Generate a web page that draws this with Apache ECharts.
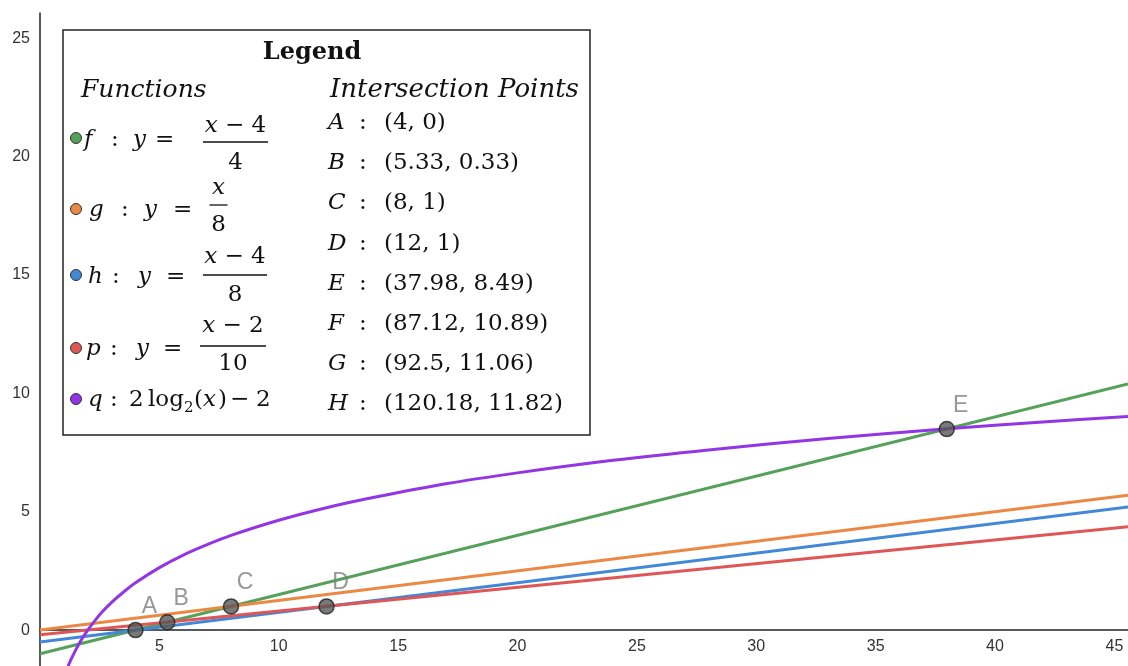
<!DOCTYPE html>
<html><head><meta charset="utf-8">
<script src="https://cdn.jsdelivr.net/npm/echarts@6/dist/echarts.min.js"></script>
<style>html,body{margin:0;padding:0;background:#fff}#c{width:1128px;height:666px}</style>
</head><body><div id="c"></div>
<script>
// ---- data ----
var lineNames = ['f', 'g', 'h', 'p'];
var lineColors = ['#55a15a', '#eb8844', '#4288d6', '#df5656'];
var lineStartX = [0, 0, 0, 0];
var lineStartY = [-1.0, 0.0, -0.5, -0.2];
var lineEndX = [45.57, 45.57, 45.57, 45.57];
var lineEndY = [10.39, 5.70, 5.20, 4.36];

var qColor = '#9236e3';
var qX = [1.15, 1.2, 1.3, 1.4, 1.6, 1.8, 2, 2.3, 2.6, 3, 3.5, 4, 5, 6, 7, 8, 10, 12, 14, 17, 20, 24, 28, 33, 38, 42, 45.57];
var qY = [-1.6, -1.47, -1.24, -1.03, -0.64, -0.3, 0, 0.4, 0.76, 1.17, 1.61, 2, 2.64, 3.17, 3.61, 4, 4.64, 5.17, 5.61, 6.18, 6.64, 7.17, 7.61, 8.09, 8.5, 8.79, 9.02];

var pointNames = ['A', 'B', 'C', 'D', 'E'];
var pointX = [4, 5.33, 8, 12, 37.98];
var pointY = [0, 0.33, 1, 1, 8.49];

var xTicks = [5, 10, 15, 20, 25, 30, 35, 40, 45];
var yTicks = [0, 5, 10, 15, 20, 25];

var legendTitle = 'Legend';
var functionsTitle = 'Functions';
var pointsTitle = 'Intersection Points';
var intersectionLetters = ['A', 'B', 'C', 'D', 'E', 'F', 'G', 'H'];
var intersectionCoords = ['(4, 0)', '(5.33, 0.33)', '(8, 1)', '(12, 1)', '(37.98, 8.49)', '(87.12, 10.89)', '(92.5, 11.06)', '(120.18, 11.82)'];

// ---- chart ----
var chart = echarts.init(document.getElementById('c'));
var SERIF = '"DejaVu Serif", serif';
var SANS = '"Liberation Sans", Arial, sans-serif';
var FS = 23;

var series = [];
lineNames.forEach(function (n, i) {
  series.push({
    name: n, type: 'line', showSymbol: false, silent: true, z: 2,
    data: [[lineStartX[i], lineStartY[i]], [lineEndX[i], lineEndY[i]]],
    lineStyle: { color: lineColors[i], width: 3 }
  });
});
series.push({
  name: 'q', type: 'line', showSymbol: false, smooth: 0.3, silent: true, z: 3,
  data: qX.map(function (x, i) { return [x, qY[i]]; }),
  lineStyle: { color: qColor, width: 3 }
});
series.push({
  name: 'points', type: 'scatter', z: 5, symbolSize: 15,
  data: pointX.map(function (x, i) { return { name: pointNames[i], value: [x, pointY[i]] }; }),
  itemStyle: { color: '#575757', borderColor: '#222', borderWidth: 1.5 },
  label: { show: true, position: 'top', offset: [14, 1], formatter: '{b}', color: '#7d7d7d',
           fontSize: 23, fontFamily: SANS }
});

// legend box graphics
var g = [];
g.push({ type: 'rect', shape: { x: 63, y: 30, width: 527, height: 405 },
  style: { fill: '#fff', stroke: '#222', lineWidth: 1.5 }, z: 100 });
function T(x, y, text, kind, opts) {
  var font = (kind === 'i' ? 'italic ' : kind === 'b' ? 'bold ' : '') + ((opts && opts.size) || FS) + 'px ' + SERIF;
  g.push({ type: 'text', x: x, y: y, z: 101,
    style: { text: text, fill: '#111', font: font, textVerticalAlign: 'middle',
             textAlign: (opts && opts.align) || 'left' } });
}
var rich = {
  i: { fontFamily: SERIF, fontStyle: 'italic', fontSize: FS, fill: '#111' },
  r: { fontFamily: SERIF, fontSize: FS, fill: '#111' }
};
function R(x, y, text) {
  g.push({ type: 'text', x: x, y: y, z: 101,
    style: { text: text, rich: rich, fill: '#111', font: FS + 'px ' + SERIF, verticalAlign: 'middle', align: 'center' } });
}
T(312, 53, legendTitle, 'b', { size: 24, align: 'center' });
T(81, 90, functionsTitle, 'i', { size: 25 });
T(330, 90, pointsTitle, 'i', { size: 26 });

intersectionLetters.forEach(function (L, i) {
  var y = 123 + i * 40.2;
  T(328, y, L, 'i');
  T(359, y, ':', 'r');
  T(384, y, intersectionCoords[i], 'r');
});

// function rows
var dotY = [138, 209, 275, 348, 399];
var dotColors = lineColors.concat([qColor]);
dotY.forEach(function (y, i) {
  g.push({ type: 'circle', shape: { cx: 76, cy: y, r: 5.5 }, z: 101,
    style: { fill: dotColors[i], stroke: '#333', lineWidth: 1 } });
});
function frac(cx, yb, num, den, w, dn, dd) {
  R(cx, yb - dn, num);
  g.push({ type: 'line', shape: { x1: cx - w / 2, y1: yb, x2: cx + w / 2, y2: yb }, z: 101,
    style: { stroke: '#111', lineWidth: 1.3 } });
  R(cx, yb + dd, den);
}
// f
T(84, 140, 'f', 'i'); T(111, 140, ':', 'r'); T(133, 140, 'y', 'i'); T(155, 140, '=', 'r');
frac(235.5, 142, '{i|x}{r| − 4}', '{r|4}', 65, 16, 21);
// g
T(89, 210, 'g', 'i'); T(121, 210, ':', 'r'); T(144, 210, 'y', 'i'); T(173, 210, '=', 'r');
frac(218.5, 205, '{i|x}', '{r|8}', 18, 17, 20);
// h
T(88, 277, 'h', 'i'); T(112, 277, ':', 'r'); T(138, 277, 'y', 'i'); T(166, 277, '=', 'r');
frac(235, 275, '{i|x}{r| − 4}', '{r|8}', 64, 18, 20);
// p
T(86, 349, 'p', 'i'); T(110, 349, ':', 'r'); T(136, 349, 'y', 'i'); T(163, 349, '=', 'r');
frac(233, 346, '{i|x}{r| − 2}', '{r|10}', 66, 20, 18);
// q
T(88, 400, 'q', 'i'); T(110, 400, ':', 'r'); T(129, 400, '2', 'r'); T(148, 400, 'log', 'r');
T(184, 408, '2', 'r', { size: 15 }); T(194, 400, '(', 'r'); T(203, 400, 'x', 'i'); T(218, 400, ')', 'r');
T(230, 400, '−', 'r'); T(256, 400, '2', 'r');

chart.setOption({
  animation: false,
  backgroundColor: '#fff',
  grid: { left: 40, top: 13, width: 1088, height: 735.5, containLabel: false, outerBoundsMode: 'none' },
  xAxis: {
    type: 'value', min: 0, max: 45.57, interval: 5, position: 'bottom', offset: -118.41,
    axisLine: { show: true, onZero: false, lineStyle: { color: '#222', width: 1.5 } },
    axisTick: { show: false }, splitLine: { show: false },
    axisLabel: { margin: 9, color: '#333', fontSize: 16, fontFamily: SANS,
      formatter: function (v) { return xTicks.indexOf(Math.round(v * 100) / 100) >= 0 ? String(v) : ''; } }
  },
  yAxis: {
    type: 'value', min: -5, max: 26.06, interval: 5,
    axisLine: { show: true, onZero: false, lineStyle: { color: '#222', width: 1.5 } },
    axisTick: { show: false }, splitLine: { show: false },
    axisLabel: { margin: 10, color: '#333', fontSize: 16, fontFamily: SANS,
      formatter: function (v) { return yTicks.indexOf(Math.round(v * 100) / 100) >= 0 ? String(v) : ''; } }
  },
  series: series,
  graphic: g
});
</script></body></html>
